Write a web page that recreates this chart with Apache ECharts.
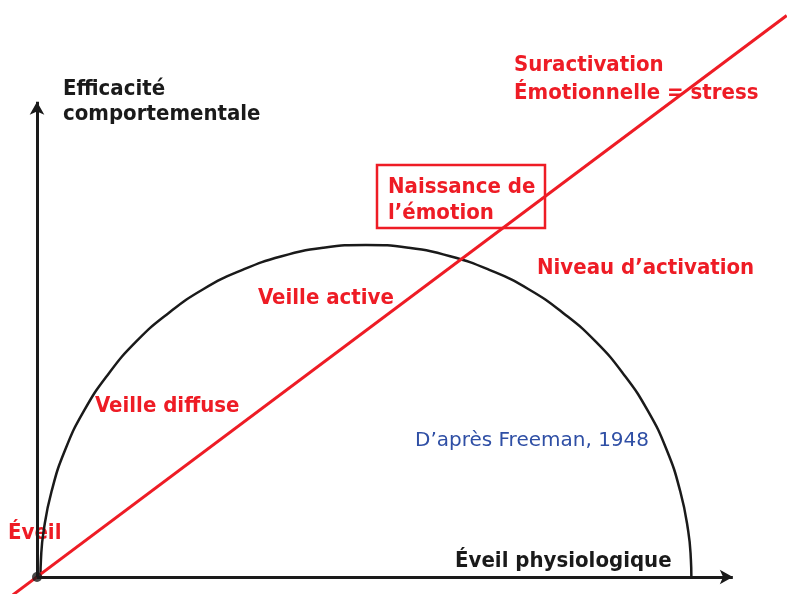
<!DOCTYPE html>
<html>
<head>
<meta charset="utf-8">
<script src="https://cdn.jsdelivr.net/npm/echarts@6/dist/echarts.min.js"></script>
<style>
  html, body { margin: 0; padding: 0; background: #fff; }
  #chart { width: 787px; height: 594px; }
</style>
</head>
<body>
<div id="chart"></div>
<script>
// courbe en cloche (Freeman) : [éveil, efficacité]
const courbeFreeman = [
  [0.5, 0], [0.57, 3.7], [0.96, 9.8], [2.11, 18.2], [4.08, 27.0], [6.81, 35.3],
  [10.23, 42.9], [14.3, 49.9], [18.93, 55.9], [24.05, 61.1], [29.57, 65.1],
  [35.41, 68.1], [41.45, 69.9], [47.6, 70.5], [53.75, 69.9], [59.79, 68.1],
  [65.63, 65.1], [71.15, 61.1], [76.27, 55.9], [80.9, 49.9], [84.97, 42.9],
  [88.39, 35.3], [91.12, 27.0], [93.09, 18.2], [94.24, 9.8], [94.63, 3.7], [94.7, 0]
];
// droite du niveau d'activation
const niveauActivation = [[-3.5, -3.8], [108.5, 119.2]];
const origine = [[0, 0]];
// axes (extrémités des flèches)
const axeX = [[0, 0], [100.7, 0]];
const axeY = [[0, 0], [0, 100.9]];
// étendue visible du repère
const etendueX = [-5.355, 108.54];
const etendueY = [-3.61, 122.5];

const rouge = "#ee1c25";
const noir = "#1a1a1a";
const police = "'DejaVu Sans Condensed', 'DejaVu Sans', sans-serif";

function texte(str, x, y, color, font) {
  return {
    type: "text",
    x: x,
    y: y,
    style: {
      text: str,
      fill: color,
      font: font || "bold 22px " + police,
      verticalAlign: "middle",
    },
  };
}

let myChart = echarts.init(document.getElementById("chart"));
myChart.setOption({
  backgroundColor: "#fff",
  animation: false,
  grid: { left: 0, right: 0, top: 0, bottom: 0 },
  xAxis: {
    type: "value",
    min: etendueX[0],
    max: etendueX[1],
    show: false,
  },
  yAxis: {
    type: "value",
    min: etendueY[0],
    max: etendueY[1],
    show: false,
  },
  series: [
    {
      type: "line",
      data: courbeFreeman,
      smooth: true,
      symbol: "none",
      lineStyle: { color: noir, width: 2.5 },
    },
    {
      type: "line",
      data: niveauActivation,
      symbol: "none",
      lineStyle: { color: rouge, width: 3 },
      z: 3,
    },
    {
      type: "scatter",
      data: origine,
      symbolSize: 10,
      itemStyle: { color: noir },
      z: 4,
      markLine: {
        silent: true,
        symbol: ["none", "arrow"],
        symbolSize: [11, 13],
        label: { show: false },
        lineStyle: { color: noir, width: 3, type: "solid" },
        data: [
          [{ coord: axeX[0] }, { coord: axeX[1] }],
          [{ coord: axeY[0] }, { coord: axeY[1] }],
        ],
      },
    },
  ],
  graphic: [
    texte("Efficacité", 63, 89, noir),
    texte("comportementale", 63, 114, noir),
    texte("Suractivation", 514, 65, rouge),
    texte("Émotionnelle = stress", 514, 93, rouge),
    {
      type: "rect",
      shape: { x: 377, y: 165, width: 168, height: 63 },
      style: { fill: "none", stroke: rouge, lineWidth: 2.5 },
    },
    texte("Naissance de", 388, 187, rouge),
    texte("l’émotion", 388, 213, rouge),
    texte("Niveau d’activation", 537, 268, rouge),
    texte("Veille active", 258, 298, rouge),
    texte("Veille diffuse", 95, 406, rouge),
    texte("D’après Freeman, 1948", 415, 441, "#2f4fa5", "normal 20px 'DejaVu Sans', sans-serif"),
    texte("Éveil", 8, 533, rouge),
    texte("Éveil physiologique", 455, 561, noir),
  ],
});
</script>
</body>
</html>
